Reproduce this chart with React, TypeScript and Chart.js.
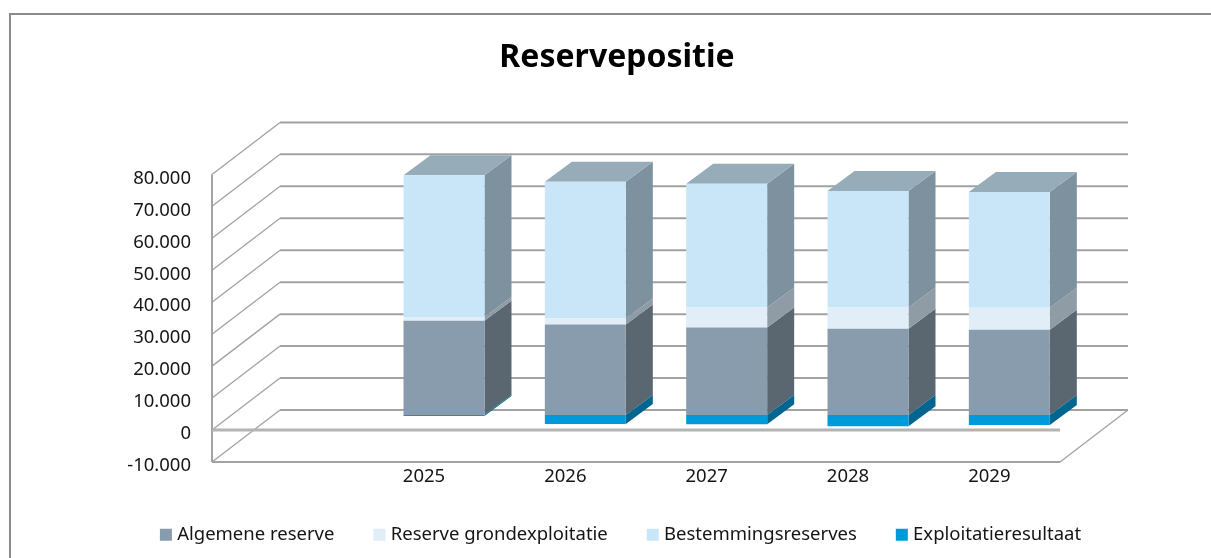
import React, { useEffect, useRef } from "react";
import { Chart, registerables } from "chart.js";

Chart.register(...registerables);

const categories = ["", "2025", "2026", "2027", "2028", "2029"];
const algemeneReserve = [null, 29500, 28300, 27360, 27040, 26700];
const reserveGrondexploitatie = [null, 1200, 1900, 6300, 6600, 6900];
const bestemmingsreserves = [null, 44350, 42800, 38700, 36500, 36200];
const exploitatieresultaat = [null, -300, -2800, -2900, -3500, -3100];

const FRONT = ["#889CAD", "#E1EDF7", "#C8E6F8", "#0099DA"];
const SIDE = ["#5A6770", "#8F9BA5", "#7D929E", "#00658F"];
const TOP = "#96ADB9";
const GRID = "#A2A2A2";
const TEXT = "#151515";
const FONT = "'Noto Sans'";

const BAR_OFFSET = { x: 20, y: -15 };
const BAR_DEPTH = { x: 27, y: -20 };
const WALL = { x: 68, y: -52 };

function line(ctx: CanvasRenderingContext2D, x1: number, y1: number, x2: number, y2: number, w = 2) {
  ctx.lineWidth = w;
  ctx.beginPath();
  ctx.moveTo(x1, y1);
  ctx.lineTo(x2, y2);
  ctx.stroke();
}

function quad(ctx: CanvasRenderingContext2D, c: string, pts: number[][]) {
  ctx.fillStyle = c;
  ctx.beginPath();
  pts.forEach((p, i) => (i ? ctx.lineTo(p[0], p[1]) : ctx.moveTo(p[0], p[1])));
  ctx.closePath();
  ctx.fill();
}

const bar3d = {
  id: "bar3d",
  afterLayout(chart: any) {
    // The legend's vertical padding leaves the x axis a short box; let its labels run on below it.
    chart.scales.x.bottom = chart.scales.x.top + 40;
    chart.legend.left += 5.5;
    chart.legend.right += 5.5;
  },
  beforeDraw(chart: any) {
    const { ctx, width, height } = chart;
    ctx.save();
    ctx.fillStyle = "#FFFFFF";
    ctx.fillRect(0, 0, width, height);
    ctx.strokeStyle = "#8C8C8C";
    ctx.lineWidth = 2;
    ctx.beginPath();
    ctx.moveTo(10, height);
    ctx.lineTo(10, 14);
    ctx.lineTo(width, 14);
    ctx.stroke();
    ctx.restore();
  },
  beforeDatasetsDraw(chart: any) {
    const { ctx, chartArea: a, scales } = chart;
    const y = scales.y;
    ctx.save();
    ctx.strokeStyle = GRID;
    y.ticks.forEach((t: any) => {
      const py = y.getPixelForValue(t.value);
      line(ctx, a.left, py, a.left + WALL.x, py + WALL.y, 1.3);
      line(ctx, a.left + WALL.x, py + WALL.y, a.right + WALL.x, py + WALL.y, 2);
    });
    line(ctx, a.left, a.top, a.left, a.bottom, 2);
    line(ctx, a.left, a.bottom, a.right, a.bottom, 2);
    line(ctx, a.right, a.bottom, a.right + WALL.x, a.bottom + WALL.y, 1.3);
    const zero = y.getPixelForValue(0);
    ctx.strokeStyle = "#B4B4B4";
    line(ctx, a.left, zero, a.right, zero, 3);
    ctx.translate(BAR_OFFSET.x, BAR_OFFSET.y);
    const dx = BAR_DEPTH.x;
    const dy = BAR_DEPTH.y;
    chart.data.datasets.forEach((_: any, d: number) => {
      chart.getDatasetMeta(d).data.forEach((el: any, i: number) => {
        if (chart.data.datasets[d].data[i] == null) return;
        const r = el.x + el.width / 2;
        const top = Math.min(el.y, el.base);
        const bottom = Math.max(el.y, el.base);
        quad(ctx, SIDE[d], [
          [r, top],
          [r + dx, top + dy],
          [r + dx, bottom + dy],
          [r, bottom],
        ]);
        if (d === 2) {
          const l = el.x - el.width / 2;
          quad(ctx, TOP, [
            [l, top],
            [l + dx, top + dy],
            [r + dx, top + dy],
            [r, top],
          ]);
        }
      });
    });
    ctx.restore();
  },
  beforeDatasetDraw(chart: any) {
    chart.ctx.save();
    chart.ctx.translate(BAR_OFFSET.x, BAR_OFFSET.y);
  },
  afterDatasetDraw(chart: any) {
    chart.ctx.restore();
  },
};

export default function App() {
  const ref = useRef<HTMLCanvasElement>(null);
  useEffect(() => {
    const names = ["Algemene reserve", "Reserve grondexploitatie", "Bestemmingsreserves", "Exploitatieresultaat"];
    const series = [algemeneReserve, reserveGrondexploitatie, bestemmingsreserves, exploitatieresultaat];
    const chart = new Chart(ref.current as HTMLCanvasElement, {
      type: "bar",
      data: {
        labels: categories,
        datasets: series.map((data, i) => ({
          label: names[i],
          data,
          backgroundColor: FRONT[i],
          borderWidth: 0,
          clip: false as any,
          categoryPercentage: 1,
          barPercentage: 0.573,
        })),
      },
      plugins: [bar3d as any],
      options: {
        responsive: false,
        animation: false,
        layout: { padding: { left: 23, right: 0, top: 0, bottom: 4 } },
        plugins: {
          tooltip: { enabled: false },
          title: {
            display: true,
            text: "Reservepositie",
            color: "#000000",
            font: { family: FONT, size: 32, weight: "bold", lineHeight: 1.2 },
            padding: { top: 39, bottom: 97 },
          },
          legend: {
            position: "bottom",
            labels: {
              usePointStyle: true,
              pointStyle: "rect",
              boxWidth: 4,
              boxHeight: 12,
              padding: 43,
              color: TEXT,
              font: { family: FONT, size: 18.5 },
            },
          },
        },
        scales: {
          x: {
            stacked: true,
            grid: { display: false, drawTicks: false, tickLength: 0 },
            border: { display: false },
            ticks: { color: TEXT, font: { family: FONT, size: 18.5 }, padding: 4, maxRotation: 0 },
            afterFit: (s: any) => {
              s.height = 96 - 4 - (s.chart.legend?.height || 40);
            },
          },
          y: {
            stacked: true,
            min: -10000,
            max: 80000,
            grid: { display: false, drawTicks: false, tickLength: 0 },
            border: { display: false },
            ticks: {
              stepSize: 10000,
              padding: 21,
              labelOffset: 4,
              color: TEXT,
              font: { family: FONT, size: 18.5 },
              callback: (v: any) => String(v).replace(/\B(?=(\d{3})+$)/g, "."),
            },
            afterFit: (s: any) => {
              s.width = 189;
            },
          },
          y2: {
            position: "right",
            grid: { display: false },
            border: { display: false },
            ticks: { display: false },
            afterFit: (s: any) => {
              s.width = 151;
            },
          },
        },
      },
    } as any);
    return () => chart.destroy();
  }, []);
  return (
    <div style={{ position: "absolute", left: 0, top: 0, width: 1211, height: 558 }}>
      <canvas ref={ref} width={1211} height={558} style={{ display: "block" }} />
    </div>
  );
}
